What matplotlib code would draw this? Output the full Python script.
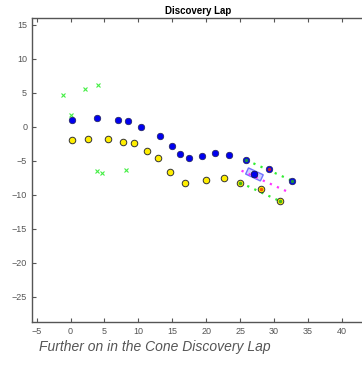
import matplotlib
matplotlib.use("Agg")
import matplotlib.pyplot as plt
from matplotlib.patches import Rectangle

plt.rcParams['font.family'] = ['Liberation Sans', 'DejaVu Sans']

# ============================================================
# DATA
# ============================================================

blue_x = [0.2, 3.9, 7.0, 8.5, 10.4, 13.2, 15.0, 16.2, 17.4, 19.3, 21.3, 23.4, 25.9, 29.2, 27.1, 32.6]
blue_y = [1.0, 1.3, 0.95, 0.8, 0.0, -1.4, -2.85, -4.0, -4.65, -4.3, -3.9, -4.1, -4.9, -6.2, -7.0, -7.9]

yellow_x = [0.15, 2.5, 5.5, 7.8, 9.4, 11.2, 12.9, 14.6, 16.8, 19.9, 22.6, 25.0, 28.1, 30.8]
yellow_y = [-1.9, -1.8, -1.8, -2.2, -2.4, -3.6, -4.65, -6.7, -8.2, -7.8, -7.5, -8.2, -9.1, -10.9]

cross_x = [-1.1, 0.1, 2.1, 4.1, 3.9, 4.7, 8.2]
cross_y = [4.7, 1.8, 5.5, 6.2, -6.55, -6.85, -6.3]

# detected cone pairs (green centres) and middle estimates (red centres)
green_x = [25.9, 32.6, 25.0, 30.8]
green_y = [-4.9, -7.9, -8.2, -10.9]
red_x = [29.2, 28.1]
red_y = [-6.2, -9.1]

# boundary lines (dotted)
left_line_x = [25.9, 32.6]
left_line_y = [-4.9, -7.9]
right_line_x = [25.0, 30.8]
right_line_y = [-8.2, -10.9]
mid_line_x = [25.2, 31.9]
mid_line_y = [-6.45, -9.5]

# car pose
car_x, car_y, car_angle = 27.1, -7.0, -25

# ============================================================
# PLOT
# ============================================================

fig = plt.figure(figsize=(3.62, 3.66), dpi=100)
ax = fig.add_axes([0.0884, 0.120, 0.92, 0.831])

ax.plot(left_line_x, left_line_y, linestyle=(0, (1, 2.5)), color='#33ee33', lw=1.6)
ax.plot(right_line_x, right_line_y, linestyle=(0, (1, 2.5)), color='#33ee33', lw=1.6)
ax.plot(mid_line_x, mid_line_y, linestyle=(0, (1, 2.5)), color='#ff33ff', lw=1.6)

ax.plot(cross_x, cross_y, 'x', color='#44ee44', ms=3.5, mew=0.8)
ax.plot(yellow_x, yellow_y, 'o', mfc='#ffee00', mec='#333333', ms=4.7, mew=0.7)
ax.plot(blue_x, blue_y, 'o', mfc='#0000ee', mec='#222255', ms=4.7, mew=0.5)

ax.plot(green_x, green_y, 'o', mfc='#22aa22', mec='none', ms=2.6, alpha=0.85)
ax.plot(red_x, red_y, 'o', mfc='#ee3300', mec='none', ms=2.6, alpha=0.8)

car = Rectangle((-1.2, -0.5), 2.4, 1.0, facecolor='#ccccff', alpha=0.9,
                edgecolor='#6666ff', lw=1.0)
t = matplotlib.transforms.Affine2D().rotate_deg(car_angle).translate(car_x, car_y) + ax.transData
car.set_transform(t)
ax.add_patch(car)
ax.plot([car_x], [car_y], 'o', mfc='#0000ee', mec='#222255', ms=4.7, mew=0.5)

ax.set_xlim(-5.68, 43.4)
ax.set_ylim(-28.7, 16.0)
ax.set_xticks(range(-5, 45, 5))
ax.set_yticks(range(-25, 20, 5))

ax.tick_params(direction='in', length=3, width=0.8, labelsize=6.5, colors='#555555',
               top=True, right=False, labelcolor='#555555')
for side in ['left', 'bottom', 'top']:
    ax.spines[side].set_color('#555555')
    ax.spines[side].set_linewidth(1.0)
ax.spines['right'].set_visible(False)

ax.set_title('Discovery Lap', fontsize=7, fontweight='bold', pad=3)

fig.text(0.108, 0.051, 'Further on in the Cone Discovery Lap', fontsize=10, style='italic',
         color='#555555', va='center')

plt.savefig('out.png', dpi=100)
